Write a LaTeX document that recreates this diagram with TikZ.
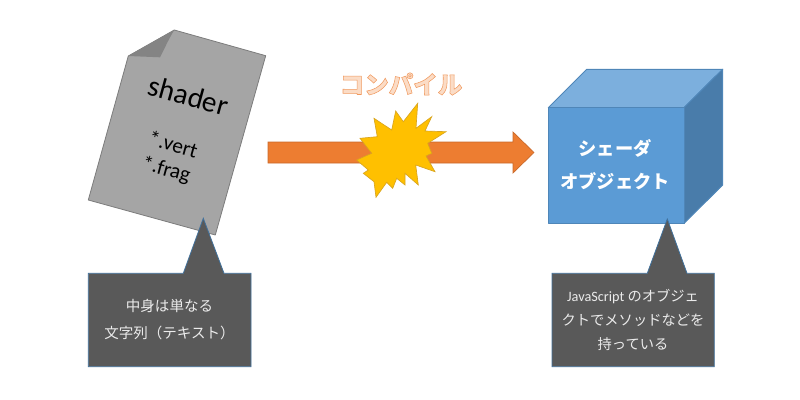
\documentclass[tikz,border=0pt]{standalone}
\usepackage{fontspec}
\setmainfont{Carlito}
\newfontfamily\jp{Noto Sans CJK JP}
\definecolor{docfill}{HTML}{A5A5A5}
\definecolor{docline}{HTML}{7C7C7C}
\definecolor{foldfill}{HTML}{848484}
\definecolor{arrowfill}{HTML}{ED7D31}
\definecolor{arrowline}{HTML}{C8682A}
\definecolor{starfill}{HTML}{FFC000}
\definecolor{starline}{HTML}{D9A520}
\definecolor{cubefront}{HTML}{5B9BD5}
\definecolor{cubetop}{HTML}{7CAFDD}
\definecolor{cubeside}{HTML}{497CAA}
\definecolor{cubeline}{HTML}{4F86B8}
\definecolor{calloutfill}{HTML}{595959}
\definecolor{calloutline}{HTML}{41719C}
\definecolor{titlefill}{HTML}{FBDCC6}
\definecolor{titleline}{HTML}{F09A5F}
\tikzset{
  docshape/.style={fill=docfill,draw=docline,line width=0.6pt,line join=round},
  foldshape/.style={fill=foldfill,draw=none},
  arrowshape/.style={fill=arrowfill,draw=arrowline,line width=0.5pt},
  starshape/.style={fill=starfill,draw=starline,line width=0.5pt,line join=miter},
  cubeface/.style={draw=cubeline,line width=0.75pt,line join=round},
  calloutshape/.style={fill=calloutfill,draw=calloutline,line width=0.6pt},
  callouttext/.style={text=white!92!black,align=center},
  cubetext/.style={text=white,font=\jp\bfseries\fontsize{13.7}{24.7}\selectfont,align=center},
  doctext/.style={text=black,rotate=-15.5,align=center},
}
\begin{document}
\begin{tikzpicture}[x=0.75pt,y=-0.75pt]
\useasboundingbox (0,0) rectangle (800,400);
% document
\draw[docshape] (128.3,56) -- (174.3,30) -- (265.7,55.7) -- (215.3,235) -- (88.3,200) -- cycle;
\fill[foldshape] (128.3,56) -- (174.3,30) .. controls (168,40) and (164,50) .. (160,57.3) -- cycle;
\node[doctext,font=\fontsize{22}{24}\selectfont] (shader) at (188.5,95.5) {shader};
\node[doctext,font=\fontsize{16}{19}\selectfont] (ext) at (169.5,158) {*.vert\\*.frag};
% arrow
\draw[arrowshape] (268,142) -- (513,142) -- (513,132) -- (534,152.5) -- (513,173) -- (513,163) -- (268,163) -- cycle;
% star
\draw[starshape] (417.7,103.3) -- (416,128.3) -- (431.7,116.7) -- (425,131) -- (446,131.7) -- (427.7,143.3) -- (431.7,153.3) -- (426,156) -- (435,171.7) -- (415.7,165) -- (418.3,185) -- (405,173.3) -- (405,185) -- (396.7,178.3) -- (392.7,188.3) -- (386.7,182.3) -- (376,197.3) -- (374,181.7) -- (363.3,173.3) -- (368.3,170) -- (356.7,160) -- (371.7,153.3) -- (360,138.3) -- (377.3,136.7) -- (374,118.3) -- (391.7,130) -- (395.7,111) -- (403.3,121.7) -- cycle;
\node[font=\jp\bfseries\fontsize{18.4}{20}\selectfont] (title) at (401,84) {\color{titlefill}\special{pdf:code 2 Tr 0.4 w 0.94 0.60 0.37 RG}コンパイル\special{pdf:code 0 Tr}};
% cube
\draw[cubeface,fill=cubetop] (548.3,107.7) -- (586.7,69.3) -- (722.7,69.3) -- (684,107.7) -- cycle;
\draw[cubeface,fill=cubeside] (684,107.7) -- (722.7,69.3) -- (722.7,185) -- (684,223.3) -- cycle;
\draw[cubeface,fill=cubefront] (548.3,107.7) rectangle (684,223.3);
\node[cubetext] (cubelabel) at (615,165) {シェーダ\\オブジェクト};
% callouts
\draw[calloutshape] (88.3,273.3) -- (183.3,273.3) -- (203.3,218.3) -- (224,273.3) -- (251,273.3) -- (251,366.7) -- (88.3,366.7) -- cycle;
\node[callouttext,font=\jp\fontsize{10.9}{20.2}\selectfont] (note1) at (169.5,320) {中身は単なる\\文字列（テキスト）};
\draw[calloutshape] (552,273.3) -- (647.3,273.3) -- (667.3,219) -- (687,273.3) -- (714.3,273.3) -- (714.3,366.7) -- (552,366.7) -- cycle;
\node[callouttext,font=\jp\fontsize{10.7}{18}\selectfont] (note2) at (633,320) {{\fontspec{Carlito}JavaScript} のオブジェ\\クトでメソッドなどを\\持っている};
\end{tikzpicture}
\end{document}
